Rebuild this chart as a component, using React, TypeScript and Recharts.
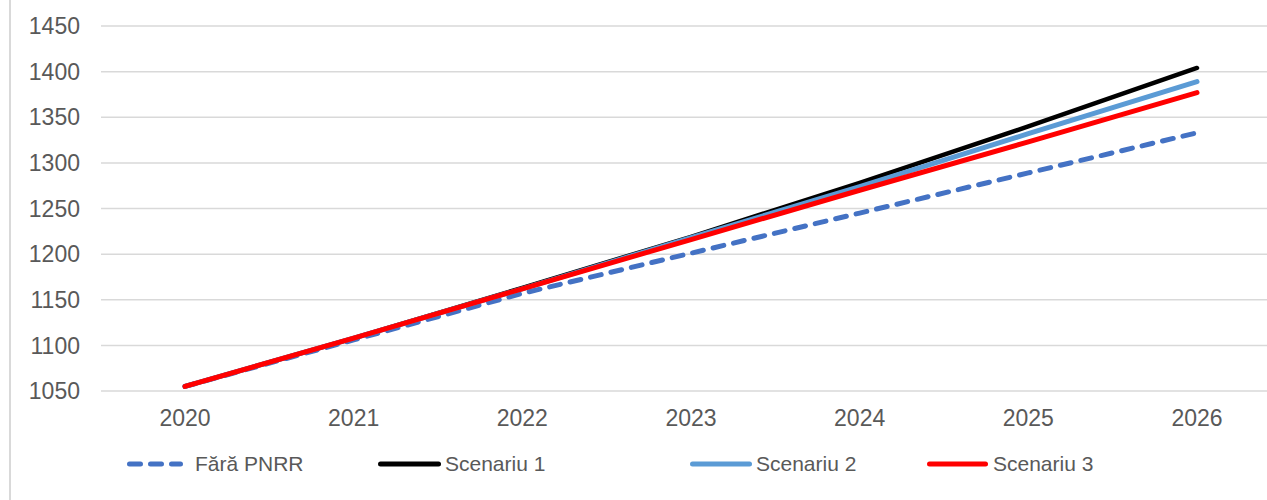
import React from 'react';
import { LineChart, Line, XAxis, YAxis, CartesianGrid, Legend } from 'recharts';

const years = ['2020', '2021', '2022', '2023', '2024', '2025', '2026'];
const faraPnrr = [1055, 1106, 1157, 1201, 1245, 1289, 1333];
const scenariu1 = [1055, 1108, 1163, 1219, 1278, 1340, 1404];
const scenariu2 = [1055, 1108, 1162, 1218, 1274, 1332, 1389];
const scenariu3 = [1055, 1108, 1162, 1216, 1270, 1323, 1377];
const yTicks = [1050, 1100, 1150, 1200, 1250, 1300, 1350, 1400, 1450];

const series = [
  { key: 'faraPnrr', label: 'Fără PNRR', color: '#4472C4', width: 5, dashed: true },
  { key: 'scenariu1', label: 'Scenariu 1', color: '#000000', width: 4.5, dashed: false },
  { key: 'scenariu2', label: 'Scenariu 2', color: '#5B9BD5', width: 5, dashed: false },
  { key: 'scenariu3', label: 'Scenariu 3', color: '#FF0000', width: 5, dashed: false }
];

const chartData = years.map((year, i) => ({
  year,
  faraPnrr: faraPnrr[i],
  scenariu1: scenariu1[i],
  scenariu2: scenariu2[i],
  scenariu3: scenariu3[i]
}));

// legend slots, Excel spaces them unevenly
const legendSlots = [
  { left: 127, sample: 56, gap: 12 },
  { left: 378, sample: 63, gap: 4 },
  { left: 690, sample: 62, gap: 4 },
  { left: 927, sample: 61, gap: 5 }
];

const FONT = '"Liberation Sans", Arial, sans-serif';

const ChartLegend = () => (
  <div style={{ position: 'relative', width: 1267, height: 30 }}>
    {series.map((s, i) => {
      const slot = legendSlots[i];
      return (
        <div
          key={s.key}
          style={{ position: 'absolute', left: slot.left, top: 0, height: 30, display: 'flex', alignItems: 'center' }}
        >
          <svg width={slot.sample} height={10} style={{ display: 'block' }}>
            <line
              x1={2.5}
              y1={5}
              x2={slot.sample - 2.5}
              y2={5}
              stroke={s.color}
              strokeWidth={5}
              strokeLinecap="round"
              strokeDasharray={s.dashed ? '11 10' : undefined}
            />
          </svg>
          <span style={{ marginLeft: slot.gap, fontSize: 21, color: '#595959', fontFamily: FONT, whiteSpace: 'nowrap' }}>
            {s.label}
          </span>
        </div>
      );
    })}
  </div>
);

export default function App() {
  return (
    <div
      style={{
        position: 'fixed',
        left: 0,
        top: 0,
        width: 1267,
        height: 500,
        overflow: 'hidden',
        background: '#ffffff',
        fontFamily: FONT
      }}
    >
      <div style={{ position: 'absolute', left: 9, top: 0, width: 2, height: 500, background: '#d9d9d9' }} />
      <LineChart
        width={1292}
        height={500}
        data={chartData}
        margin={{ top: 26, right: 11, left: 0, bottom: 79 }}
        style={{ position: 'absolute', left: 0, top: 0 }}
      >
        <CartesianGrid vertical={false} stroke="#d9d9d9" strokeWidth={1.5} />
        <XAxis
          dataKey="year"
          height={30}
          axisLine={false}
          tickLine={false}
          padding={{ left: 84, right: 84 }}
          tickMargin={13}
          tick={{ fill: '#595959', fontSize: 23, fontFamily: FONT }}
        />
        <YAxis
          width={101}
          domain={[1050, 1450]}
          ticks={yTicks}
          axisLine={false}
          tickLine={false}
          tickMargin={15}
          tick={{ fill: '#595959', fontSize: 23, fontFamily: FONT }}
        />
        <Legend
          verticalAlign="middle"
          layout="horizontal"
          content={() => <ChartLegend />}
          wrapperStyle={{ left: 0, top: 449, width: 1267, height: 30 }}
        />
        {series.map(s => (
          <Line
            key={s.key}
            type="linear"
            dataKey={s.key}
            name={s.label}
            stroke={s.color}
            strokeWidth={s.width}
            strokeDasharray={s.dashed ? '11 10' : undefined}
            strokeLinecap="round"
            dot={false}
            activeDot={false}
            isAnimationActive={false}
          />
        ))}
      </LineChart>
    </div>
  );
}
